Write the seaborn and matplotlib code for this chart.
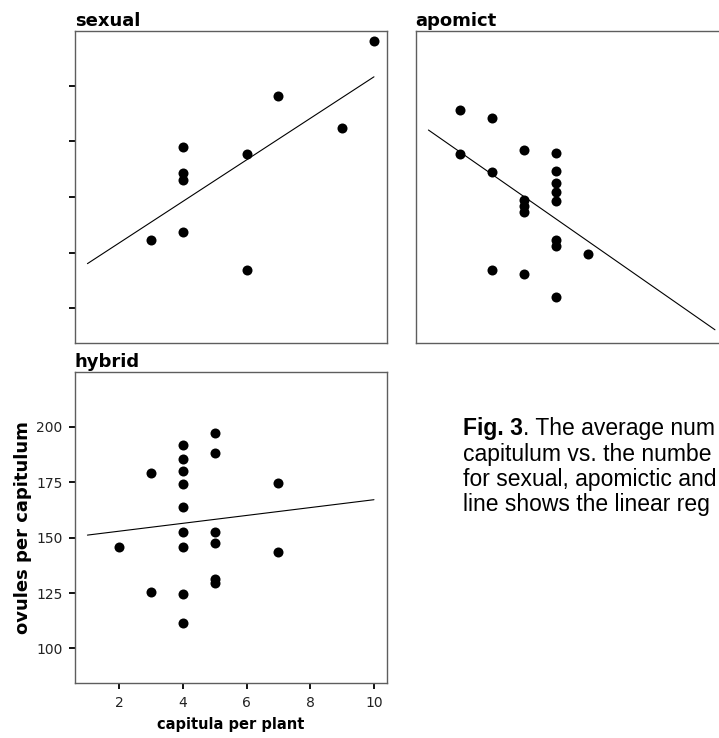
import numpy as np
import pandas as pd
import matplotlib
matplotlib.use("Agg")
import matplotlib.pyplot as plt
from matplotlib import font_manager as fm
import seaborn as sns

# ---------------- data ----------------
sexual_x = [3, 4, 4, 4, 4, 6, 6, 7, 9, 10]
sexual_y = [130.8, 134.3, 157.6, 160.6, 172.6, 117.3, 169.3, 195.2, 180.9, 220.0]

apomict_x = [2, 2, 3, 3, 3, 4, 4, 4, 4, 4, 5, 5, 5, 5, 5, 5, 5, 5, 6]
apomict_y = [188.9, 169.2, 185.6, 161.0, 117.3, 171.3, 148.6, 145.8, 143.3, 115.2,
             169.8, 161.8, 156.1, 152.3, 148.2, 130.8, 128.2, 105.2, 124.5]

hybrid_x = [2, 3, 3, 4, 4, 4, 4, 4, 4, 4, 4, 4, 5, 5, 5, 5, 5, 5, 7, 7]
hybrid_y = [145.6, 178.9, 125.3, 191.6, 185.6, 180.2, 174.0, 163.9, 152.3, 145.6,
            124.5, 111.6, 197.0, 188.0, 152.3, 147.4, 131.4, 129.3, 174.7, 143.5]

fit_range = [1, 10]
x_ticks = [2, 4, 6, 8, 10]
y_ticks = [100, 125, 150, 175, 200]
panel_titles = ["sexual", "apomict", "hybrid"]
x_label = "capitula per plant"
y_label = "ovules per capitulum"
# caption as visible in the reference (cut at the right edge)
caption_lines = [
    ("Fig. 3", ". The average num"),
    ("", "capitulum vs. the numbe"),
    ("", "for sexual, apomictic and"),
    ("", "line shows the linear reg"),
]

# ---------------- style ----------------
sns.set_style("white")
plt.rcParams["font.family"] = ["DejaVu Sans"]


def find_font(name, bold=False):
    for f in fm.fontManager.ttflist:
        if f.name == name and "Narrow" not in f.fname:
            w = f.weight if isinstance(f.weight, int) else (700 if f.weight == "bold" else 400)
            if (w >= 600) == bold and f.style == "normal":
                return f.fname
    return None


reg_file = find_font("Liberation Sans", False)
bold_file = find_font("Liberation Sans", True)
cap_size = 16.5
fp_reg = fm.FontProperties(fname=reg_file, size=cap_size) if reg_file else fm.FontProperties(family="DejaVu Sans", size=cap_size)
fp_bold = fm.FontProperties(fname=bold_file, size=cap_size) if bold_file else fm.FontProperties(family="DejaVu Sans", weight="bold", size=cap_size)

W, H = 719, 738
fig = plt.figure(figsize=(W / 100, H / 100), dpi=100)


def add_ax(left, top, w, h):
    return fig.add_axes([left / W, 1 - (top + h) / H, w / W, h / H])


ax_s = add_ax(74.7, 31, 312, 312.3)
ax_a = add_ax(415.7, 31, 312, 312.3)
ax_h = add_ax(74.7, 372.3, 312, 311)

panels = [
    (ax_s, sexual_x, sexual_y, panel_titles[0]),
    (ax_a, apomict_x, apomict_y, panel_titles[1]),
    (ax_h, hybrid_x, hybrid_y, panel_titles[2]),
]

for ax, xs, ys, title in panels:
    df = pd.DataFrame({"x": xs, "y": ys})
    sns.scatterplot(data=df, x="x", y="y", ax=ax, color="black", s=52,
                    linewidth=0, zorder=3)
    coef = np.polyfit(df["x"], df["y"], 1)
    fx = np.array(fit_range, dtype=float)
    sns.lineplot(x=fx, y=np.polyval(coef, fx), ax=ax, color="black",
                 linewidth=0.8, zorder=2)
    ax.set_xlim(0.6, 10.4)
    ax.set_ylim(84.3, 224.5)
    ax.set_xlabel("")
    ax.set_ylabel("")
    ax.set_title(title, loc="left", fontsize=13, fontweight="bold",
                 color="black", pad=3.5)
    for sp in ax.spines.values():
        sp.set_visible(True)
        sp.set_color("#5e5e5e")
        sp.set_linewidth(1.0)
    ax.tick_params(direction="out", length=4.3, width=1.3, color="black",
                   pad=4.5, labelsize=10, labelcolor="#222222",
                   left=True, bottom=True)

# sexual: y ticks without labels, no x ticks
ax_s.set_xticks([])
ax_s.set_yticks(y_ticks)
ax_s.set_yticklabels([])
# apomict: no ticks
ax_a.set_xticks([])
ax_a.set_yticks([])
# hybrid: full axes
ax_h.set_xticks(x_ticks)
ax_h.set_yticks(y_ticks)
ax_h.set_xlabel(x_label, fontsize=10.5, fontweight="bold", color="black")
ax_h.set_ylabel(y_label, fontsize=13, fontweight="bold", color="black")
ax_h.xaxis.set_label_coords(0.5, -0.108)
ax_h.yaxis.set_label_coords(-0.137, 0.5)

# ---------------- caption ----------------
renderer = fig.canvas.get_renderer()
cap_x = 462.7
baselines = [435, 460.5, 486, 511.5]
for (bold, rest), yb in zip(caption_lines, baselines):
    x0 = cap_x / W
    if bold:
        t = fig.text(x0, 1 - yb / H, bold, fontproperties=fp_bold,
                     color="black", va="baseline", ha="left")
        bb = t.get_window_extent(renderer=renderer)
        x0 = bb.x1 / W
    fig.text(x0, 1 - yb / H, rest, fontproperties=fp_reg, color="black",
             va="baseline", ha="left")

fig.savefig("out.png", dpi=100)
